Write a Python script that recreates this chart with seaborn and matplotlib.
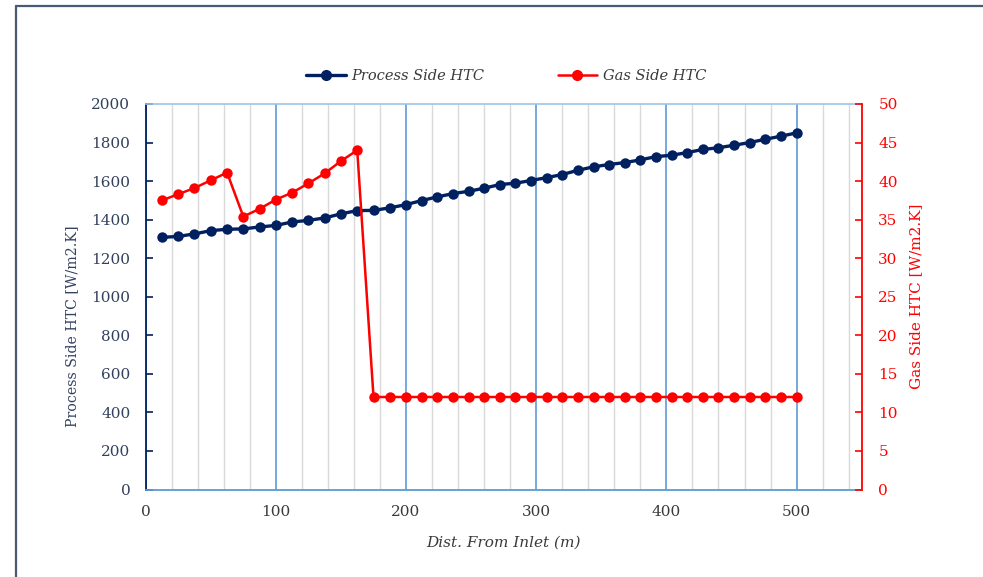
import numpy as np
import pandas as pd
import matplotlib
matplotlib.use("Agg")
import matplotlib.pyplot as plt
from matplotlib.lines import Line2D
import seaborn as sns

# ---- data ----
dist_first = [12.5, 25, 37.5, 50, 62.5, 75, 87.5, 100, 112.5, 125, 137.5, 150, 162.5, 175, 187.5, 200]
dist_rest = [212, 224, 236, 248, 260, 272, 284, 296, 308, 320, 332, 344, 356, 368, 380,
             392, 404, 416, 428, 440, 452, 464, 476, 488, 500]
distance = dist_first + dist_rest

process_htc = [1308, 1313, 1326, 1343, 1350, 1352, 1362, 1370, 1388, 1396, 1409, 1430, 1447,
               1448, 1461, 1478, 1499, 1518, 1535, 1547, 1563, 1582, 1589, 1603, 1618, 1634,
               1656, 1674, 1686, 1696, 1710, 1727, 1734, 1748, 1764, 1773, 1786, 1800, 1817,
               1833, 1850]

gas_htc = [37.5, 38.3, 39.1, 40.1, 41.1, 35.4, 36.4, 37.6, 38.5, 39.7, 41.0, 42.6, 44.0] + [12.0] * 28

x_ticks = [0, 100, 200, 300, 400, 500]
left_ticks = list(range(0, 2001, 200))
right_ticks = list(range(0, 51, 5))

df = pd.DataFrame({"dist": distance, "process": process_htc, "gas": gas_htc})

NAVY = "#002060"
RED = "#FF0000"
LEFT_TXT = "#33415F"
XTXT = "#3A3A3A"

sns.set_theme(style="white")
plt.rcParams["font.family"] = ["DejaVu Serif"]

fig = plt.figure(figsize=(9.83, 5.77), dpi=100)
ax = fig.add_axes([0.1482, 0.1516, 0.7284, 0.6682])
ax2 = ax.twinx()

sns.lineplot(data=df, x="dist", y="process", ax=ax, color=NAVY, marker="o",
             markersize=7.5, linewidth=2.4, markeredgewidth=0, label="Process Side HTC",
             legend=False, zorder=4)
sns.lineplot(data=df, x="dist", y="gas", ax=ax2, color=RED, marker="o",
             markersize=7.5, linewidth=1.8, markeredgewidth=0, label="Gas Side HTC",
             legend=False, zorder=4)

ax.set_xlim(0, 550)
ax.set_ylim(0, 2000)
ax2.set_ylim(0, 50)
ax.set_xticks(x_ticks)
ax.set_xticks(np.arange(0, 551, 20), minor=True)
ax.set_yticks(left_ticks)
ax2.set_yticks(right_ticks)

# gridlines
ax.grid(False)
ax2.grid(False)
ax.xaxis.grid(True, which="minor", color="#D9D9D9", linewidth=1.0, zorder=0)
ax.xaxis.grid(True, which="major", color="#5B9BD5", linewidth=1.2, zorder=1)
ax.set_axisbelow(True)

# spines
for s in ax.spines.values():
    s.set_visible(True)
ax.spines["left"].set_color(NAVY)
ax.spines["left"].set_linewidth(1.3)
ax.spines["bottom"].set_color("#5B9BD5")
ax.spines["bottom"].set_linewidth(1.3)
ax.spines["top"].set_color("#9DC3E6")
ax.spines["top"].set_linewidth(1.2)
ax.spines["right"].set_visible(False)
for k in ["left", "top", "bottom"]:
    ax2.spines[k].set_visible(False)
ax2.spines["right"].set_visible(True)
ax2.spines["right"].set_color(RED)
ax2.spines["right"].set_linewidth(1.3)

fs = 11
ax.tick_params(axis="y", which="major", direction="in", length=5, width=1.2, color=NAVY,
               labelcolor=LEFT_TXT, labelsize=fs, pad=11, left=True)
ax.tick_params(axis="x", which="both", length=0, labelcolor=XTXT, labelsize=fs, pad=11)
ax2.tick_params(axis="y", which="major", direction="in", length=5, width=1.2, color=RED,
                labelcolor=RED, labelsize=fs, pad=12, right=True)

ax.set_xlabel("Dist. From Inlet (m)", color=XTXT, fontsize=fs, style="italic", labelpad=12)
ax.set_ylabel("Process Side HTC [W/m2.K]", color=LEFT_TXT, fontsize=10.2)
ax.yaxis.set_label_coords(-0.093, 0.424)
ax2.set_ylabel("Gas Side HTC [W/m2.K]", color=RED, fontsize=fs, labelpad=8)

handles = [Line2D([], [], color=NAVY, marker="o", markersize=7, linewidth=2.4),
           Line2D([], [], color=RED, marker="o", markersize=7, linewidth=1.8)]
leg = fig.legend(handles, ["Process Side HTC", "Gas Side HTC"], loc="center",
                 bbox_to_anchor=(0.515, 0.868), ncol=2, frameon=False,
                 prop={"style": "italic", "size": 10.5}, handlelength=2.7,
                 columnspacing=5.0, handletextpad=0.4)
for t in leg.get_texts():
    t.set_color(XTXT)

# document frame lines
fig.add_artist(Line2D([16 / 983, 16 / 983], [0, 1 - 6 / 577], transform=fig.transFigure,
                      color="#4A5A75", linewidth=1.6))
fig.add_artist(Line2D([16 / 983, 1], [1 - 6 / 577, 1 - 6 / 577], transform=fig.transFigure,
                      color="#4A5A75", linewidth=1.6))

fig.savefig("out.png", dpi=100)
